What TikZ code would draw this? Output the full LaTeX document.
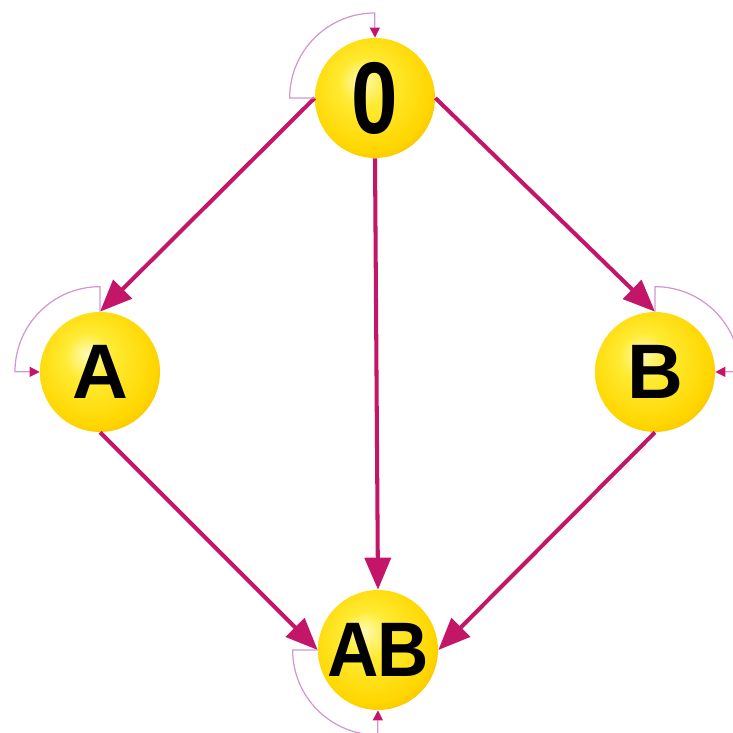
\documentclass[tikz,border=0pt]{standalone}
\usepackage{fontspec}
\setmainfont{Liberation Sans}
\usetikzlibrary{arrows.meta}

\definecolor{arrowred}{RGB}{196,22,104}
\definecolor{loopline}{RGB}{210,150,210}
\pgfdeclareradialshading{goldball}{\pgfpoint{-6bp}{8bp}}{%
  rgb(0bp)=(1,0.98,0.7); rgb(10bp)=(1,0.92,0.2); rgb(26bp)=(1,0.84,0);
  rgb(38bp)=(0.93,0.66,0); rgb(46bp)=(0.96,0.76,0.08); rgb(50bp)=(1,0.9,0.45)}

\begin{document}
\begin{tikzpicture}[
  x=0.02cm, y=0.02cm,
  ball/.style={circle, minimum size=2.4cm, inner sep=0pt, shading=goldball,
               font=\fontsize{44}{44}\selectfont\bfseries},
  arr/.style={-{Triangle[length=6.4mm,width=5.2mm]}, line width=2.3pt, draw=arrowred},
  selfloop/.style={-{Triangle[length=2mm,width=2mm,color=arrowred]}, line width=0.7pt,
                   draw=loopline}]
\useasboundingbox (0,0) rectangle (733,733);
\node[ball, font=\fontsize{58}{58}\selectfont\bfseries] (zero) at (375,635) {\scalebox{0.82}[1]{0}};
\node[ball] (a) at (100,361) {A};
\node[ball] (b) at (655,361) {B};
\node[ball] (ab) at (378,83) {\scalebox{0.92}[1]{A\kern-1pt B}};
% transitions
\draw[arr] (zero.west) -- (a.north);
\draw[arr] (zero.east) -- (b.north);
\draw[arr] (zero.south) -- (ab.north);
\draw[arr] (a.south) -- (ab.west);
\draw[arr] (b.south) -- (ab.east);
% self loops
\draw[selfloop] (zero.west) -- ++(-25,0) arc[start angle=180, end angle=90, radius=85] -- (zero.north);
\draw[selfloop] (a.north) -- ++(0,25) arc[start angle=90, end angle=180, radius=85] -- (a.west);
\draw[selfloop] (b.north) -- ++(0,25) arc[start angle=90, end angle=0, radius=85] -- (b.east);
\draw[selfloop] (ab.west) -- ++(-25,0) arc[start angle=180, end angle=270, radius=85] -- (ab.south);
\end{tikzpicture}
\end{document}
